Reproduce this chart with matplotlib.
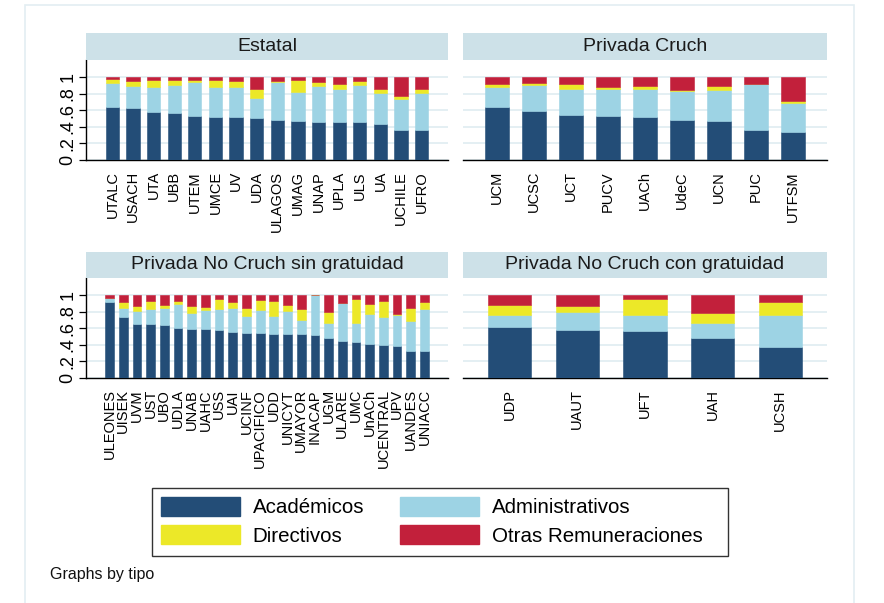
import matplotlib
matplotlib.use("Agg")
import matplotlib.pyplot as plt
from matplotlib.patches import Patch, Rectangle
import numpy as np

plt.rcParams['font.family'] = ['Liberation Sans', 'DejaVu Sans']

# ---------------- data ----------------
estatal_names = ["UTALC", "USACH", "UTA", "UBB", "UTEM", "UMCE", "UV", "UDA", "ULAGOS",
                 "UMAG", "UNAP", "UPLA", "ULS", "UA", "UCHILE", "UFRO"]
estatal_acad = [.645, .625, .577, .573, .532, .520, .520, .512, .488, .476, .464, .464, .456, .440, .367, .367]
estatal_admin = [.286, .274, .306, .330, .412, .367, .359, .238, .460, .343, .435, .395, .451, .370, .371, .448]
estatal_dir = [.045, .053, .089, .069, .028, .077, .081, .105, .008, .145, .041, .056, .049, .049, .036, .040]
estatal_otras = [.024, .048, .028, .028, .028, .036, .040, .145, .044, .036, .060, .085, .044, .141, .226, .145]

cruch_names = ["UCM", "UCSC", "UCT", "PUCV", "UACh", "UdeC", "UCN", "PUC", "UTFSM"]
cruch_acad = [.637, .597, .540, .536, .516, .488, .476, .359, .343]
cruch_admin = [.246, .306, .319, .319, .343, .343, .367, .564, .351]
cruch_dir = [.040, .028, .056, .024, .036, .012, .052, .002, .024]
cruch_otras = [.077, .069, .085, .121, .105, .157, .105, .075, .282]

sin_names = ["ULEONES", "UISEK", "UVM", "UST", "UBO", "UDLA", "UNAB", "UAHC", "USS", "UAI",
             "UCINF", "UPACIFICO", "UDD", "UNICYT", "UMAYOR", "INACAP", "UGM", "ULARE", "UMC",
             "UnACh", "UCENTRAL", "UPV", "UANDES", "UNIACC"]
sin_acad = [.923, .738, .657, .649, .645, .601, .597, .593, .585, .560, .548, .540, .536, .536,
            .532, .520, .488, .452, .440, .411, .399, .391, .331, .323]
sin_admin = [.049, .113, .153, .186, .206, .298, .185, .234, .254, .291, .206, .279, .218, .279,
             .166, .480, .181, .459, .225, .363, .339, .371, .359, .512]
sin_dir = [.000, .068, .061, .096, .036, .032, .093, .032, .113, .072, .089, .129, .173, .064,
           .141, .000, .129, .000, .291, .117, .197, .008, .161, .080]
sin_otras = [.028, .081, .129, .069, .113, .069, .125, .141, .048, .077, .157, .052, .073, .121,
             .161, .000, .202, .089, .044, .109, .065, .230, .149, .085]

con_names = ["UDP", "UAUT", "UFT", "UAH", "UCSH"]
con_acad = [.613, .577, .573, .484, .379]
con_admin = [.149, .225, .189, .177, .379]
con_dir = [.117, .065, .190, .129, .161]
con_otras = [.121, .133, .048, .210, .081]

panel_titles = ["Estatal", "Privada Cruch", "Privada No Cruch sin gratuidad", "Privada No Cruch con gratuidad"]
series_labels = ["Académicos", "Administrativos", "Directivos", "Otras Remuneraciones"]
ytick_vals = [0, .2, .4, .6, .8, 1]
ytick_labels = ["0", ".2", ".4", ".6", ".8", "1"]

colors = ["#234d77", "#9dd3e4", "#ece828", "#c2203b"]
strip_color = "#cde1e8"
grid_color = "#dfecf1"

W, H = 884, 603
fig = plt.figure(figsize=(W / 100, H / 100), dpi=100)
fig.patch.set_facecolor("white")


def frac(x0, y0, x1, y1):
    return [x0 / W, 1 - y1 / H, (x1 - x0) / W, (y1 - y0) / H]


# outer border
fig.patches.append(Rectangle((25 / W, -0.01), (854 - 25) / W, 1 - 5 / H + 0.01,
                             transform=fig.transFigure, fill=False,
                             edgecolor="#e3eef2", linewidth=1.2))

panels = [
    (estatal_names, [estatal_acad, estatal_admin, estatal_dir, estatal_otras], (86, 60, 448, 160), (86, 33, 448, 59.5), 1.28, True),
    (cruch_names, [cruch_acad, cruch_admin, cruch_dir, cruch_otras], (463, 60, 827, 160), (463, 33, 827, 59.5), 0.92, False),
    (sin_names, [sin_acad, sin_admin, sin_dir, sin_otras], (86, 278, 448, 378), (86, 252, 448, 277.5), 1.72, True),
    (con_names, [con_acad, con_admin, con_dir, con_otras], (463, 278, 827, 378), (463, 252, 827, 277.5), 0.69, False),
]

for (names, series, box, sbox, margin, left), title in zip(panels, panel_titles):
    ax = fig.add_axes(frac(*box))
    x = np.arange(len(names))
    bottom = np.zeros(len(names))
    for vals, c in zip(series, colors):
        vals = np.array(vals)
        ax.bar(x, vals, bottom=bottom, width=0.64, color=c, linewidth=0.4,
               edgecolor=c, zorder=3)
        bottom += vals
    ax.set_xlim(-margin, len(names) - 1 + margin)
    ax.set_ylim(0, 1.21)
    ax.set_yticks(ytick_vals)
    ax.yaxis.grid(True, color=grid_color, linewidth=1.2, zorder=0)
    ax.set_axisbelow(True)
    ax.set_xticks(x)
    ax.set_xticklabels(names, rotation=90, fontsize=10.5, va="top", ha="center")
    ax.tick_params(axis="x", length=0, pad=8)
    for s in ["top", "right"]:
        ax.spines[s].set_visible(False)
    ax.spines["bottom"].set_linewidth(1.0)
    if left:
        ax.set_yticklabels(ytick_labels, rotation=90, fontsize=13, va="center")
        ax.tick_params(axis="y", length=5, width=0.9, pad=2)
        ax.spines["left"].set_linewidth(1.0)
    else:
        ax.spines["left"].set_visible(False)
        ax.tick_params(axis="y", length=0, labelleft=False)

    sax = fig.add_axes(frac(*sbox))
    sax.set_facecolor(strip_color)
    sax.set_xticks([])
    sax.set_yticks([])
    for s in sax.spines.values():
        s.set_visible(False)
    sax.text(0.5, 0.5, title, ha="center", va="center", fontsize=14, color="#1a1a1a",
             transform=sax.transAxes)

# legend (frame drawn separately to match the wide right padding)
fig.patches.append(Rectangle((152 / W, 1 - 556 / H), (728 - 152) / W, (556 - 488) / H,
                             transform=fig.transFigure, fill=False,
                             edgecolor="#333333", linewidth=1.0, zorder=5))
handles = [Patch(facecolor=c, edgecolor=c) for c in colors]
order = [0, 2, 1, 3]
leg = fig.legend([handles[i] for i in order], [series_labels[i] for i in order],
                 loc="upper left", bbox_to_anchor=(152 / W, 1 - 488 / H),
                 ncol=2, fontsize=14.8, frameon=False, borderaxespad=0,
                 handlelength=3.85, handleheight=1.05, handletextpad=0.62,
                 columnspacing=1.75, labelspacing=0.4, borderpad=0.42)

fig.text(50 / W, 1 - 575 / H, "Graphs by tipo", fontsize=11.5, ha="left", va="center", color="#111111")

fig.savefig("out.png", dpi=100)
